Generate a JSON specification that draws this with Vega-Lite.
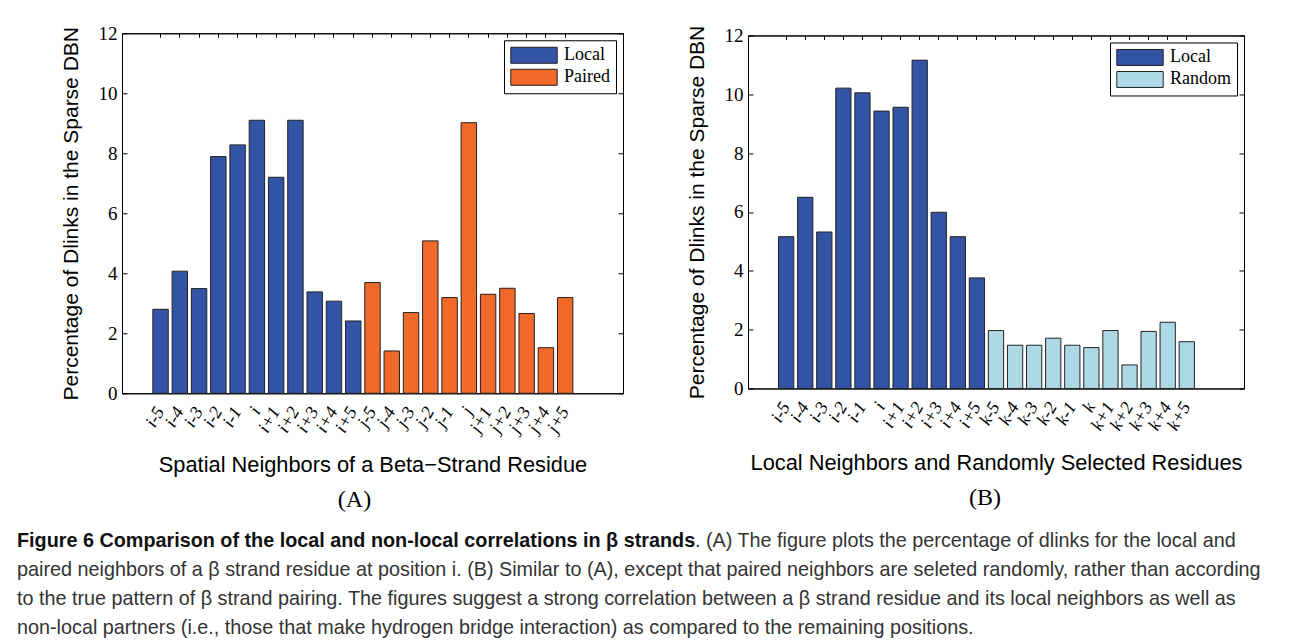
{
  "$schema": "https://vega.github.io/schema/vega-lite/v6.json",
  "padding": {"left": 17, "top": 23, "right": 0, "bottom": 0},
  "background": "#ffffff",
  "datasets": {
    "a": [
      {"label": "i-5", "group": "Local", "value": 2.8},
      {"label": "i-4", "group": "Local", "value": 4.07},
      {"label": "i-3", "group": "Local", "value": 3.49},
      {"label": "i-2", "group": "Local", "value": 7.89},
      {"label": "i-1", "group": "Local", "value": 8.28},
      {"label": "i", "group": "Local", "value": 9.1},
      {"label": "i+1", "group": "Local", "value": 7.2},
      {"label": "i+2", "group": "Local", "value": 9.1},
      {"label": "i+3", "group": "Local", "value": 3.38},
      {"label": "i+4", "group": "Local", "value": 3.07},
      {"label": "i+5", "group": "Local", "value": 2.41},
      {"label": "j-5", "group": "Paired", "value": 3.69},
      {"label": "j-4", "group": "Paired", "value": 1.41},
      {"label": "j-3", "group": "Paired", "value": 2.69},
      {"label": "j-2", "group": "Paired", "value": 5.08},
      {"label": "j-1", "group": "Paired", "value": 3.19},
      {"label": "j", "group": "Paired", "value": 9.02},
      {"label": "j+1", "group": "Paired", "value": 3.3},
      {"label": "j+2", "group": "Paired", "value": 3.5},
      {"label": "j+3", "group": "Paired", "value": 2.66},
      {"label": "j+4", "group": "Paired", "value": 1.52},
      {"label": "j+5", "group": "Paired", "value": 3.19}
    ],
    "b": [
      {"label": "i-5", "group": "Local", "value": 5.16},
      {"label": "i-4", "group": "Local", "value": 6.5},
      {"label": "i-3", "group": "Local", "value": 5.32},
      {"label": "i-2", "group": "Local", "value": 10.21},
      {"label": "i-1", "group": "Local", "value": 10.05},
      {"label": "i", "group": "Local", "value": 9.43},
      {"label": "i+1", "group": "Local", "value": 9.56},
      {"label": "i+2", "group": "Local", "value": 11.16},
      {"label": "i+3", "group": "Local", "value": 5.99},
      {"label": "i+4", "group": "Local", "value": 5.16},
      {"label": "i+5", "group": "Local", "value": 3.76},
      {"label": "k-5", "group": "Random", "value": 1.97},
      {"label": "k-4", "group": "Random", "value": 1.47},
      {"label": "k-3", "group": "Random", "value": 1.47},
      {"label": "k-2", "group": "Random", "value": 1.71},
      {"label": "k-1", "group": "Random", "value": 1.47},
      {"label": "k", "group": "Random", "value": 1.39},
      {"label": "k+1", "group": "Random", "value": 1.97},
      {"label": "k+2", "group": "Random", "value": 0.8},
      {"label": "k+3", "group": "Random", "value": 1.94},
      {"label": "k+4", "group": "Random", "value": 2.25},
      {"label": "k+5", "group": "Random", "value": 1.59}
    ],
    "cap": [
      {"line": 1, "style": "bold", "text": "Figure 6 Comparison of the local and non-local correlations in β strands"},
      {"line": 1, "style": "first", "text": ". (A) The figure plots the percentage of dlinks for the local and"},
      {"line": 2, "style": "rest", "text": "paired neighbors of a β strand residue at position i. (B) Similar to (A), except that paired neighbors are seleted randomly, rather than according"},
      {"line": 3, "style": "rest", "text": "to the true pattern of β strand pairing. The figures suggest a strong correlation between a β strand residue and its local neighbors as well as"},
      {"line": 4, "style": "rest", "text": "non-local partners (i.e., those that make hydrogen bridge interaction) as compared to the remaining positions."}
    ]
  },
  "vconcat": [
    {
      "hconcat": [
        {
          "width": 501,
          "height": 360,
          "data": {"name": "a"},
          "title": {"text": "(A)", "orient": "bottom", "font": "Liberation Serif", "fontSize": 24, "fontWeight": "normal", "offset": 12, "anchor": "middle", "frame": "group", "dx": -18, "color": "#000"},
          "layer": [
            {
              "mark": {"type": "bar", "stroke": "#222", "strokeWidth": 1},
              "encoding": {
                "x": {"field": "label", "type": "nominal",
                  "scale": {"domain": ["pad0", "i-5", "i-4", "i-3", "i-2", "i-1", "i", "i+1", "i+2", "i+3", "i+4", "i+5", "j-5", "j-4", "j-3", "j-2", "j-1", "j", "j+1", "j+2", "j+3", "j+4", "j+5", "pad23", "pad24"], "paddingInner": 0.2, "paddingOuter": 0.6},
                  "axis": {"orient": "bottom", "values": ["i-5", "i-4", "i-3", "i-2", "i-1", "i", "i+1", "i+2", "i+3", "i+4", "i+5", "j-5", "j-4", "j-3", "j-2", "j-1", "j", "j+1", "j+2", "j+3", "j+4", "j+5"], "title": "Spatial Neighbors of a Beta−Strand Residue", "labelAngle": -60, "labelAlign": "right", "labelBaseline": "middle", "labelFont": "Liberation Serif", "labelFontStyle": "italic", "labelFontSize": 18, "tickSize": -5, "labelPadding": 20, "titleFont": "Liberation Sans", "titleFontSize": 21.8, "titleFontWeight": "normal", "titlePadding": 19}},
                "y": {"field": "value", "type": "quantitative",
                  "scale": {"domain": [0, 12], "nice": false},
                  "axis": {"orient": "left", "values": [0, 2, 4, 6, 8, 10, 12], "title": "Percentage of Dlinks in the Sparse DBN", "labelFont": "Liberation Serif", "labelFontSize": 19, "tickSize": -5, "labelPadding": 10, "titleFont": "Liberation Sans", "titleFontSize": 21, "titleFontWeight": "normal", "titlePadding": 17}},
                "color": {"field": "group", "type": "nominal",
                  "scale": {"domain": ["Local", "Paired"], "range": ["#3354A5", "#F16929"]},
                  "legend": {"orient": "top-right", "offset": 7, "title": null, "strokeColor": "#000", "fillColor": "#fff", "padding": 6, "labelFont": "Liberation Serif", "labelFontSize": 18, "labelColor": "#000", "symbolType": "M-2.9,-1L2.9,-1L2.9,1L-2.9,1Z", "symbolSize": 256, "symbolStrokeColor": "#222", "symbolStrokeWidth": 1, "symbolOpacity": 1, "symbolOffset": 15, "labelOffset": 21, "rowPadding": 2}}
              }
            },
            {
              "mark": {"type": "bar", "opacity": 0},
              "encoding": {
                "x": {"field": "label", "type": "nominal",
                  "axis": {"orient": "top", "values": ["i-5", "i-4", "i-3", "i-2", "i-1", "i", "i+1", "i+2", "i+3", "i+4", "i+5", "j-5", "j-4", "j-3", "j-2", "j-1", "j", "j+1", "j+2", "j+3", "j+4", "j+5"], "labels": false, "title": null, "tickSize": -4}},
                "y": {"field": "value", "type": "quantitative",
                  "axis": {"orient": "right", "values": [0, 2, 4, 6, 8, 10, 12], "labels": false, "title": null, "tickSize": -5}}
              }
            }
          ],
          "resolve": {"axis": {"x": "independent", "y": "independent"}}
        },
        {
          "width": 496,
          "height": 353,
          "data": {"name": "b"},
          "title": {"text": "(B)", "orient": "bottom", "font": "Liberation Serif", "fontSize": 24, "fontWeight": "normal", "offset": 12, "anchor": "middle", "frame": "group", "dx": -11, "color": "#000"},
          "layer": [
            {
              "mark": {"type": "bar", "stroke": "#222", "strokeWidth": 1},
              "encoding": {
                "x": {"field": "label", "type": "nominal",
                  "scale": {"domain": ["pad0", "i-5", "i-4", "i-3", "i-2", "i-1", "i", "i+1", "i+2", "i+3", "i+4", "i+5", "k-5", "k-4", "k-3", "k-2", "k-1", "k", "k+1", "k+2", "k+3", "k+4", "k+5", "pad23", "pad24"], "paddingInner": 0.2, "paddingOuter": 0.6},
                  "axis": {"orient": "bottom", "values": ["i-5", "i-4", "i-3", "i-2", "i-1", "i", "i+1", "i+2", "i+3", "i+4", "i+5", "k-5", "k-4", "k-3", "k-2", "k-1", "k", "k+1", "k+2", "k+3", "k+4", "k+5"], "title": "Local Neighbors and Randomly Selected Residues", "labelAngle": -60, "labelAlign": "right", "labelBaseline": "middle", "labelFont": "Liberation Serif", "labelFontStyle": "italic", "labelFontSize": 18, "tickSize": -5, "labelPadding": 20, "titleFont": "Liberation Sans", "titleFontSize": 21.8, "titleFontWeight": "normal", "titlePadding": 19}},
                "y": {"field": "value", "type": "quantitative",
                  "scale": {"domain": [0, 12], "nice": false},
                  "axis": {"orient": "left", "values": [0, 2, 4, 6, 8, 10, 12], "title": "Percentage of Dlinks in the Sparse DBN", "labelFont": "Liberation Serif", "labelFontSize": 19, "tickSize": -5, "labelPadding": 10, "titleFont": "Liberation Sans", "titleFontSize": 21, "titleFontWeight": "normal", "titlePadding": 17}},
                "color": {"field": "group", "type": "nominal",
                  "scale": {"domain": ["Local", "Random"], "range": ["#3354A5", "#ADD8E6"]},
                  "legend": {"orient": "top-right", "offset": 7, "title": null, "strokeColor": "#000", "fillColor": "#fff", "padding": 6, "labelFont": "Liberation Serif", "labelFontSize": 18, "labelColor": "#000", "symbolType": "M-2.9,-1L2.9,-1L2.9,1L-2.9,1Z", "symbolSize": 256, "symbolStrokeColor": "#222", "symbolStrokeWidth": 1, "symbolOpacity": 1, "symbolOffset": 15, "labelOffset": 21, "rowPadding": 2}}
              }
            },
            {
              "mark": {"type": "bar", "opacity": 0},
              "encoding": {
                "x": {"field": "label", "type": "nominal",
                  "axis": {"orient": "top", "values": ["i-5", "i-4", "i-3", "i-2", "i-1", "i", "i+1", "i+2", "i+3", "i+4", "i+5", "k-5", "k-4", "k-3", "k-2", "k-1", "k", "k+1", "k+2", "k+3", "k+4", "k+5"], "labels": false, "title": null, "tickSize": -4}},
                "y": {"field": "value", "type": "quantitative",
                  "axis": {"orient": "right", "values": [0, 2, 4, 6, 8, 10, 12], "labels": false, "title": null, "tickSize": -5}}
              }
            }
          ],
          "resolve": {"axis": {"x": "independent", "y": "independent"}}
        }
      ],
      "spacing": 61,
      "center": true,
      "resolve": {"scale": {"color": "independent"}, "legend": {"color": "independent"}}
    },
    {
      "width": 1150,
      "height": 99,
      "data": {"name": "cap"},
      "view": {"stroke": null},
      "encoding": {
        "x": {"datum": 0, "type": "quantitative", "scale": {"domain": [0, 1]}, "axis": null},
        "y": {"field": "line", "type": "ordinal", "scale": {"padding": 0.2}, "axis": null}
      },
      "layer": [
        {
          "transform": [{"filter": "datum.style == 'bold'"}],
          "mark": {"type": "text", "align": "left", "baseline": "middle", "dx": -105, "font": "Liberation Sans", "fontSize": 19.8, "fontWeight": "bold", "color": "#111"},
          "encoding": {"text": {"field": "text"}}
        },
        {
          "transform": [{"filter": "datum.style == 'first'"}],
          "mark": {"type": "text", "align": "left", "baseline": "middle", "dx": 573, "font": "Liberation Sans", "fontSize": 19.8, "color": "#333"},
          "encoding": {"text": {"field": "text"}}
        },
        {
          "transform": [{"filter": "datum.style == 'rest'"}],
          "mark": {"type": "text", "align": "left", "baseline": "middle", "dx": -105, "font": "Liberation Sans", "fontSize": 19.8, "color": "#333"},
          "encoding": {"text": {"field": "text"}}
        }
      ]
    }
  ],
  "spacing": 17,
  "config": {
    "view": {"stroke": "#000", "strokeWidth": 1},
    "axis": {"grid": false, "domainColor": "#000", "tickColor": "#000", "labelColor": "#000", "titleColor": "#000", "domainWidth": 1}
  }
}
